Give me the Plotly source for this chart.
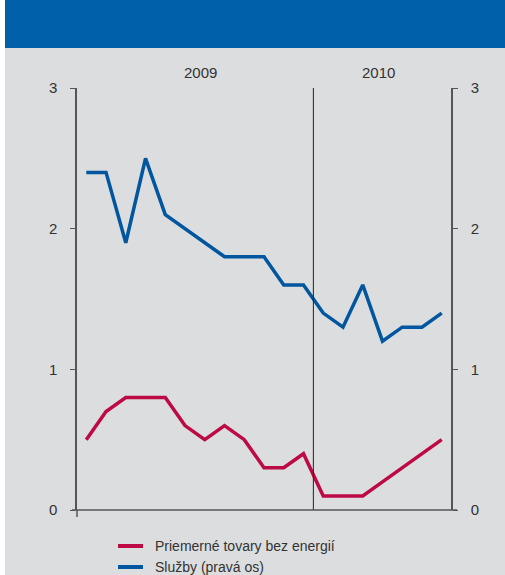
import plotly.graph_objects as go

# Monthly observations, Jan 2009 - Jul 2010
months = list(range(19))
goods_ex_energy = [0.5, 0.7, 0.8, 0.8, 0.8, 0.6, 0.5, 0.6, 0.5, 0.3, 0.3, 0.4,
                   0.1, 0.1, 0.1, 0.2, 0.3, 0.4, 0.5]
services = [2.4, 2.4, 1.9, 2.5, 2.1, 2.0, 1.9, 1.8, 1.8, 1.8, 1.6, 1.6,
            1.4, 1.3, 1.6, 1.2, 1.3, 1.3, 1.4]
series_names = ["Priemerné tovary bez energií", "Služby (pravá os)"]
year_labels = ["2009", "2010"]
year_centers = [5.8, 14.8]
year_break = 11.5
tick_vals = [0, 1, 2, 3]

W, H = 505, 575
L, R, T, B = 77, 54, 88, 65
PW, PH = W - L - R, H - T - B

RED = "#BD0A45"
BLUE = "#00569F"
HEADER = "#0061AA"
BG = "#DCDDDF"
AXIS = "#555555"
TEXT = "#333333"
FONT = "Liberation Sans, Arial, sans-serif"


def px_x(px):
    return (px - L) / PW


def px_y(py):
    return (H - B - py) / PH


fig = go.Figure()
fig.add_trace(go.Scatter(
    x=months, y=goods_ex_energy, mode="lines", name=series_names[0],
    line=dict(color=RED, width=3.5), yaxis="y"))
fig.add_trace(go.Scatter(
    x=months, y=services, mode="lines", name=series_names[1],
    line=dict(color=BLUE, width=3.5), yaxis="y2"))

shapes = [
    # white strip on the left edge and the header band
    dict(type="rect", xref="paper", yref="paper", x0=px_x(-2), x1=px_x(5),
         y0=px_y(H + 2), y1=px_y(-2), fillcolor="white", line_width=0, layer="below"),
    dict(type="rect", xref="paper", yref="paper", x0=px_x(5), x1=px_x(W + 2),
         y0=px_y(48), y1=px_y(-2), fillcolor=HEADER, line_width=0, layer="below"),
    # year separator
    dict(type="line", xref="x", yref="paper", x0=year_break, x1=year_break,
         y0=0, y1=1, line=dict(color="#222222", width=1)),
    # baseline extending past both axes
    dict(type="line", xref="paper", yref="paper", x0=px_x(72), x1=px_x(457),
         y0=0, y1=0, line=dict(color=AXIS, width=1.5)),
    # left axis stub below the baseline
    dict(type="line", xref="paper", yref="paper", x0=0, x1=0,
         y0=0, y1=px_y(H - B + 7), line=dict(color=AXIS, width=1.5)),
]

annotations = [
    dict(x=xc, y=px_y(73), xref="x", yref="paper", text=t, showarrow=False,
         font=dict(size=15, color=TEXT, family=FONT), xanchor="center", yanchor="middle")
    for t, xc in zip(year_labels, year_centers)
]

# legend keys drawn below the plot area
for name, color, ly in zip(series_names, [RED, BLUE], [546, 567]):
    shapes.append(dict(type="line", xref="paper", yref="paper",
                       x0=px_x(118), x1=px_x(143), y0=px_y(ly), y1=px_y(ly),
                       line=dict(color=color, width=4)))
    annotations.append(dict(x=px_x(153), y=px_y(ly), xref="paper", yref="paper",
                            text=name, showarrow=False, xanchor="left", yanchor="middle",
                            font=dict(size=14, color=TEXT, family=FONT)))

axis_common = dict(range=[0, 3], tickvals=tick_vals, ticks="outside", ticklen=5,
                   tickwidth=1, tickcolor=AXIS, showline=True, linecolor=AXIS,
                   linewidth=1.5, showgrid=False, zeroline=False,
                   tickfont=dict(size=15, color=TEXT, family=FONT))

fig.update_layout(
    width=W, height=H,
    margin=dict(l=L, r=R, t=T, b=B, pad=0),
    paper_bgcolor=BG,
    plot_bgcolor="rgba(0,0,0,0)",
    font=dict(family=FONT, color=TEXT),
    xaxis=dict(range=[-0.47, 18.47], showticklabels=False, ticks="", showline=False,
               showgrid=False, zeroline=False),
    yaxis=dict(side="left", ticklabelstandoff=10, **axis_common),
    yaxis2=dict(side="right", overlaying="y", ticklabelstandoff=10, **axis_common),
    showlegend=False,
    shapes=shapes,
    annotations=annotations,
)

fig.write_html("out.html")
